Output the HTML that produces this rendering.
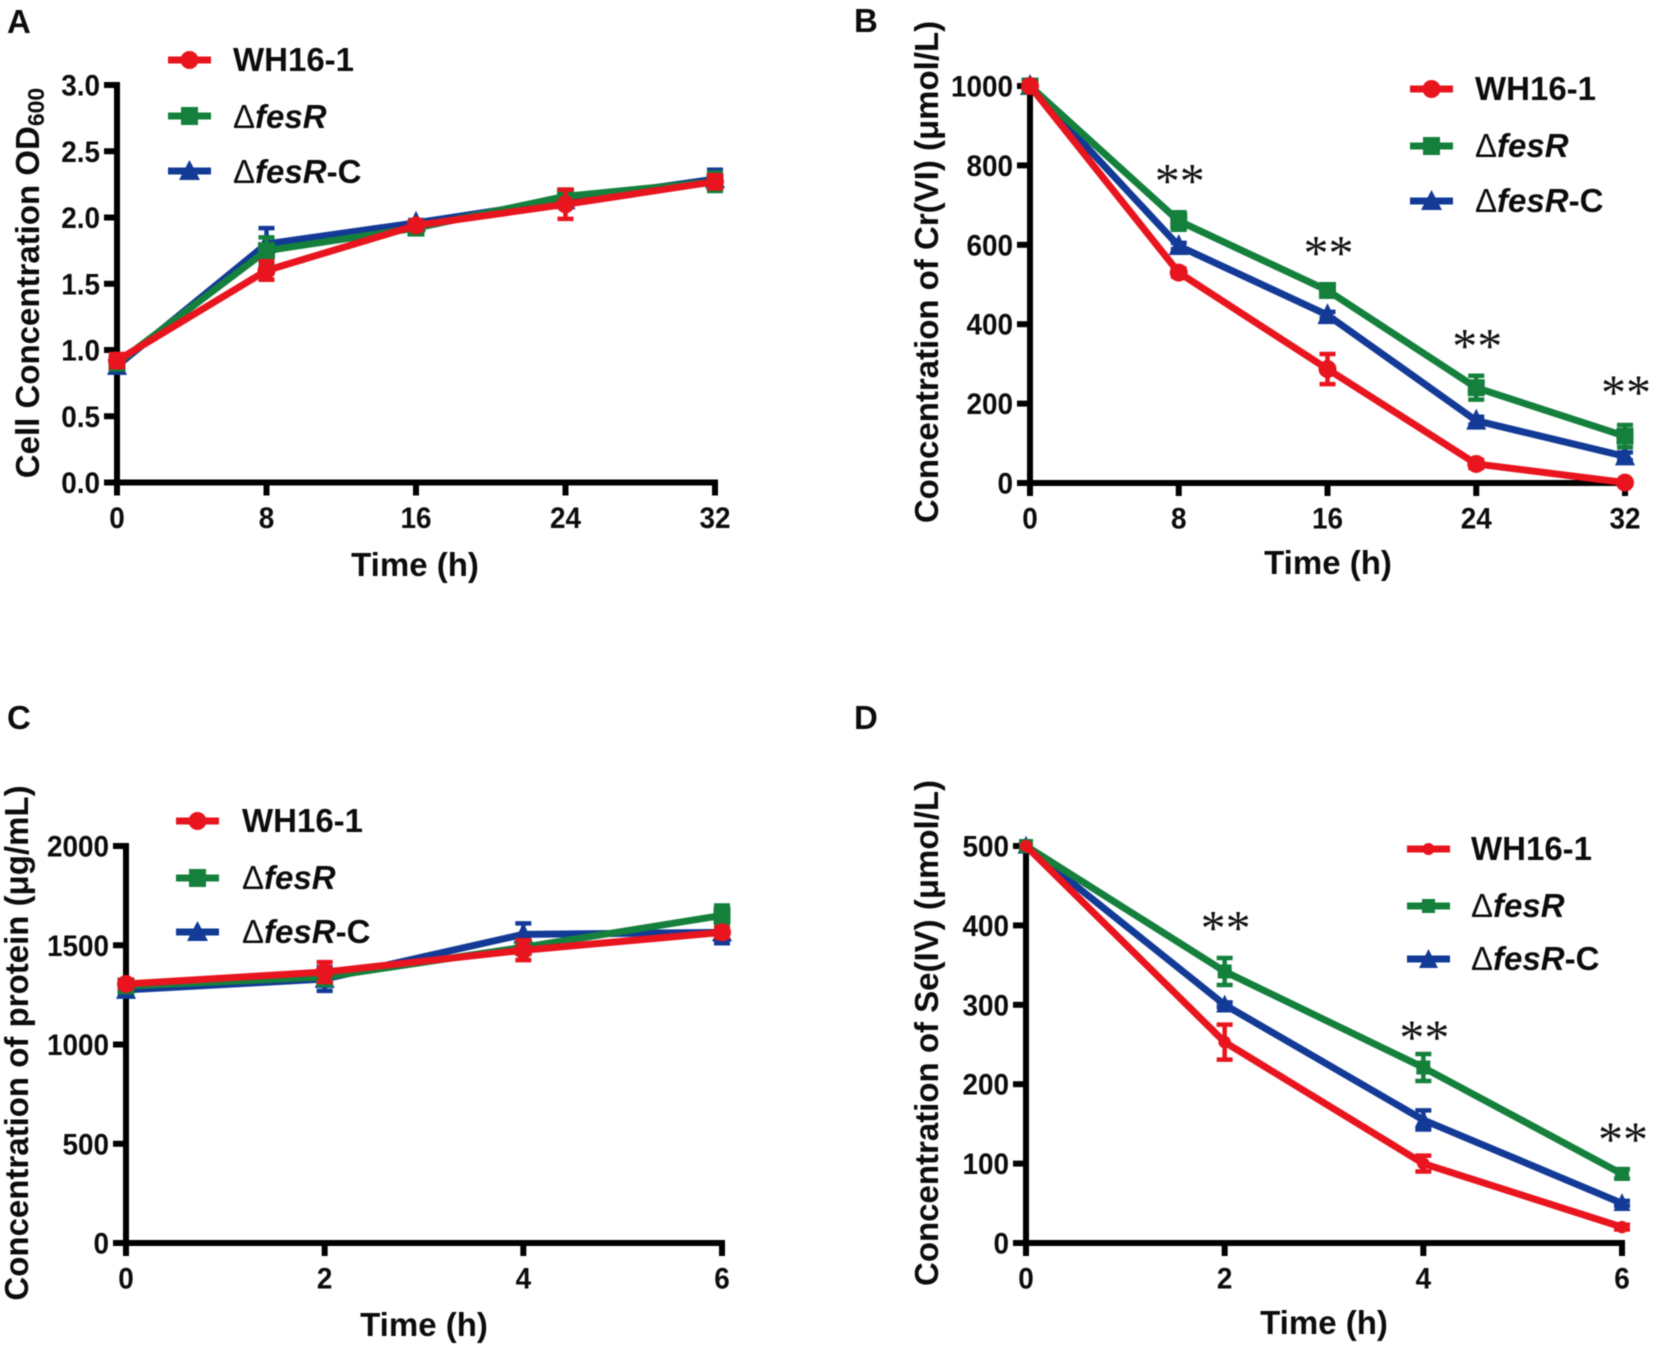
<!DOCTYPE html>
<html lang="en">
<head>
<meta charset="utf-8">
<title>Growth and reduction curves of WH16-1, fesR mutant and complement</title>
<style>
  html, body { margin: 0; padding: 0; background: #ffffff; }
  svg { display: block; filter: blur(0.5px); }
  text { font-family: "Liberation Sans", sans-serif; font-weight: 700; fill: #0c0c0c; }
  .tick { font-size: 30px; }
  .title { font-size: 33px; }
  .legend { font-size: 33px; }
  .letter { font-size: 33px; }
  .thin { font-weight: 400; }
  .ital { font-style: italic; }
</style>
</head>
<body>
<svg id="figure" xmlns="http://www.w3.org/2000/svg" width="1655" height="1352" viewBox="0 0 1655 1352">
  <rect width="1655" height="1352" fill="#ffffff"/>

  <!-- Panel A -->
  <g id="panel-a">
    <text class="letter" x="7" y="33">A</text>
    <text class="title" transform="translate(39,283) rotate(-90)" text-anchor="middle">Cell Concentration OD<tspan font-size="23" dy="5">600</tspan></text>
    <text class="title" x="415" y="576" text-anchor="middle">Time (h)</text>
  </g>
  <g>
    <g>
      <line x1="168" x2="211" y1="60" y2="60" stroke="#e8141e" stroke-width="7"/><circle cx="189.500" cy="60" r="9" fill="#e8141e"/>
      <text class="legend" x="233" y="71">WH16-1</text>
    </g>
    <g>
      <line x1="168" x2="211" y1="116" y2="116" stroke="#14803c" stroke-width="7"/><rect x="181" y="107" width="17" height="18" fill="#14803c"/>
      <text class="legend" x="233" y="128"><tspan class="thin">Δ</tspan><tspan class="ital">fesR</tspan></text>
    </g>
    <g>
      <line x1="168" x2="211" y1="171" y2="171" stroke="#123a96" stroke-width="7"/><path d="M189.500 160 L200 180 L179 180 Z" fill="#123a96"/>
      <text class="legend" x="233" y="183"><tspan class="thin">Δ</tspan><tspan class="ital">fesR</tspan>-C</text>
    </g>
  </g>

  <!-- Panel B -->
  <g id="panel-b">
    <text class="letter" x="854" y="32">B</text>
    <text class="title" transform="translate(938,272) rotate(-90)" text-anchor="middle">Concentration of Cr(VI) (μmol/L)</text>
    <text class="title" x="1328" y="574" text-anchor="middle">Time (h)</text>
  </g>
  <g>
    <g>
      <line x1="1410" x2="1453" y1="89" y2="89" stroke="#e8141e" stroke-width="7"/><circle cx="1431.500" cy="89" r="9" fill="#e8141e"/>
      <text class="legend" x="1475" y="100">WH16-1</text>
    </g>
    <g>
      <line x1="1410" x2="1453" y1="146" y2="146" stroke="#14803c" stroke-width="7"/><rect x="1423" y="137" width="17" height="18" fill="#14803c"/>
      <text class="legend" x="1475" y="157"><tspan class="thin">Δ</tspan><tspan class="ital">fesR</tspan></text>
    </g>
    <g>
      <line x1="1410" x2="1453" y1="201" y2="201" stroke="#123a96" stroke-width="7"/><path d="M1431.500 190 L1442 210 L1421 210 Z" fill="#123a96"/>
      <text class="legend" x="1475" y="212"><tspan class="thin">Δ</tspan><tspan class="ital">fesR</tspan>-C</text>
    </g>
  </g>

  <!-- Panel C -->
  <g id="panel-c">
    <text class="letter" x="7" y="729">C</text>
    <text class="title" transform="translate(28,1043) rotate(-90)" text-anchor="middle">Concentration of protein (μg/mL)</text>
    <text class="title" x="424" y="1336" text-anchor="middle">Time (h)</text>
  </g>
  <g>
    <g>
      <line x1="176" x2="219" y1="821" y2="821" stroke="#e8141e" stroke-width="7"/><circle cx="197.500" cy="821" r="9" fill="#e8141e"/>
      <text class="legend" x="242" y="832">WH16-1</text>
    </g>
    <g>
      <line x1="176" x2="219" y1="878" y2="878" stroke="#14803c" stroke-width="7"/><rect x="189" y="869" width="17" height="18" fill="#14803c"/>
      <text class="legend" x="242" y="889"><tspan class="thin">Δ</tspan><tspan class="ital">fesR</tspan></text>
    </g>
    <g>
      <line x1="176" x2="219" y1="932" y2="932" stroke="#123a96" stroke-width="7"/><path d="M197.500 921 L208 941 L187 941 Z" fill="#123a96"/>
      <text class="legend" x="242" y="943"><tspan class="thin">Δ</tspan><tspan class="ital">fesR</tspan>-C</text>
    </g>
  </g>

  <!-- Panel D -->
  <g id="panel-d">
    <text class="letter" x="854" y="729">D</text>
    <text class="title" transform="translate(938,1033) rotate(-90)" text-anchor="middle">Concentration of Se(IV) (μmol/L)</text>
    <text class="title" x="1324" y="1334" text-anchor="middle">Time (h)</text>
  </g>
  <g>
    <g>
      <line x1="1407" x2="1450" y1="849" y2="849" stroke="#e8141e" stroke-width="7"/><circle cx="1428.500" cy="849" r="6" fill="#e8141e"/>
      <text class="legend" x="1471" y="860">WH16-1</text>
    </g>
    <g>
      <line x1="1407" x2="1450" y1="906" y2="906" stroke="#14803c" stroke-width="7"/><rect x="1422" y="899" width="13" height="14" fill="#14803c"/>
      <text class="legend" x="1471" y="917"><tspan class="thin">Δ</tspan><tspan class="ital">fesR</tspan></text>
    </g>
    <g>
      <line x1="1407" x2="1450" y1="959" y2="959" stroke="#123a96" stroke-width="7"/><path d="M1428.500 949 L1438 968 L1419 968 Z" fill="#123a96"/>
      <text class="legend" x="1471" y="970"><tspan class="thin">Δ</tspan><tspan class="ital">fesR</tspan>-C</text>
    </g>
  </g>
</svg>

<script>
// ---- Chart data ----
const timesAB = [0, 8, 16, 24, 32];
const timesCD = [0, 2, 4, 6];

const yTickLabelsA = ["0.0", "0.5", "1.0", "1.5", "2.0", "2.5", "3.0"];
const yTickLabelsB = ["0", "200", "400", "600", "800", "1000"];
const yTickLabelsC = ["0", "500", "1000", "1500", "2000"];
const yTickLabelsD = ["0", "100", "200", "300", "400", "500"];

const aWh = [0.92, 1.60, 1.94, 2.10, 2.27];
const aWhErr = [0.05, 0.07, 0.03, 0.11, 0.05];
const aFes = [0.90, 1.75, 1.92, 2.16, 2.27];
const aFesErr = [0.04, 0.10, 0.04, 0.05, 0.07];
const aCom = [0.88, 1.80, 1.96, 2.13, 2.29];
const aComErr = [0.05, 0.12, 0.02, 0.05, 0.07];

const bWh = [1000, 530, 287, 48, 1];
const bWhErr = [0, 10, 38, 10, 3];
const bFes = [1000, 660, 485, 240, 118];
const bFesErr = [0, 22, 15, 30, 28];
const bCom = [1000, 597, 423, 157, 67];
const bComErr = [0, 8, 8, 10, 10];
const bStarTimes = [8, 16, 24, 32];
const bStarLevels = [779, 598, 364, 247];

const cWh = [1305, 1365, 1475, 1565];
const cWhErr = [20, 50, 50, 25];
const cFes = [1295, 1340, 1490, 1650];
const cFesErr = [20, 40, 30, 50];
const cCom = [1275, 1330, 1555, 1565];
const cComErr = [25, 60, 55, 55];

const dWh = [500, 253, 100, 20];
const dWhErr = [0, 22, 10, 3];
const dFes = [500, 342, 221, 87];
const dFesErr = [0, 17, 17, 6];
const dCom = [500, 300, 155, 50];
const dComErr = [0, 3, 12, 3];
const dStarTimes = [2, 4, 6];
const dStarLevels = [406, 268, 140];

// ---- Drawing ----
const SVG_NS = "http://www.w3.org/2000/svg";
const RED = "#e8141e", GREEN = "#14803c", BLUE = "#123a96";

function make(tag, attrs) {
  const el = document.createElementNS(SVG_NS, tag);
  for (const key in attrs) el.setAttribute(key, attrs[key]);
  return el;
}

function drawAxes(host, xScale, yScale, xTicks, yLabels, f) {
  const axisStyle = { stroke: "#000000", "stroke-width": 6, fill: "none" };
  const yAxis = make("line", Object.assign({ x1: f.x0, x2: f.x0, y1: f.y1 - 3, y2: f.y0 + 3 }, axisStyle));
  
  
  host.appendChild(yAxis);
  const xAxis = make("line", Object.assign({ x1: f.x0 - 3, x2: f.x1 + 3, y1: f.y0, y2: f.y0 }, axisStyle));
  
  
  host.appendChild(xAxis);

  xTicks.forEach(function (t) {
    const tick = make("line", Object.assign({ x1: xScale(t), x2: xScale(t), y1: f.y0, y2: f.y0 + 13 }, axisStyle));
    
    
    host.appendChild(tick);
    const label = make("text", { class: "tick", transform: "translate(" + xScale(t) + "," + (f.y0 + 45.5) + ") scale(0.93,1)", "text-anchor": "middle" });
    
    
    label.textContent = String(t);
    host.appendChild(label);
  });

  yLabels.forEach(function (text) {
    const v = parseFloat(text);
    const tick = make("line", Object.assign({ x1: f.x0 - 13, x2: f.x0, y1: yScale(v), y2: yScale(v) }, axisStyle));
    
    
    host.appendChild(tick);
    const label = make("text", { class: "tick", transform: "translate(" + (f.x0 - 17) + "," + (yScale(v) + 10.5) + ") scale(0.93,1)", "text-anchor": "end" });
    
    
    label.textContent = text;
    host.appendChild(label);
  });
}

function drawMarker(host, shape, color, cx, cy, f) {
  let mark;
  if (shape === "circle") {
    mark = make("circle", { cx: cx, cy: cy, r: f.circleSize / 2, fill: color });
  } else if (shape === "square") {
    mark = make("rect", { x: cx - f.squareSize / 2, y: cy - f.squareSize / 2, width: f.squareSize, height: f.squareSize, fill: color });
  } else {
    const s = f.triangleSize;
    mark = make("path", { d: "M" + cx + " " + (cy - s * 0.6) + " L" + (cx + s / 2) + " " + (cy + s * 0.45) + " L" + (cx - s / 2) + " " + (cy + s * 0.45) + " Z", fill: color });
  }
  
  
  host.appendChild(mark);
}

function drawSeries(host, name, xs, ys, errs, color, shape, xScale, yScale, f) {
  const g = make("g", {});
  
  

  xs.forEach(function (t, i) {
    if (!errs[i]) return;
    const x = xScale(t);
    const top = yScale(ys[i] + errs[i]);
    const bot = yScale(ys[i] - errs[i]);
    const bar = make("path", {
      d: "M" + x + " " + top + " V" + bot + " M" + (x - 8) + " " + top + " H" + (x + 8) + " M" + (x - 8) + " " + bot + " H" + (x + 8),
      stroke: color, "stroke-width": 4.5, fill: "none"
    });
    
    
    g.appendChild(bar);
  });

  const points = xs.map(function (t, i) { return xScale(t) + "," + yScale(ys[i]); }).join(" ");
  const line = make("polyline", { points: points, fill: "none", stroke: color, "stroke-width": f.lineWidth, "stroke-linejoin": "round" });
  
  
  g.appendChild(line);

  xs.forEach(function (t, i) {
    drawMarker(g, shape, color, xScale(t), yScale(ys[i]), f);
  });
  host.appendChild(g);
}

function drawStars(host, times, levels, xScale, yScale) {
  times.forEach(function (t, i) {
    const star = make("text", {
      x: xScale(t) + 1, y: yScale(levels[i]) + 24, "text-anchor": "middle",
      style: 'font-family:"Liberation Serif",serif;font-weight:400;font-size:50px;fill:#111111'
    });
    
    
    star.textContent = "**";
    host.appendChild(star);
  });
}

function drawPanel(id, frame, xMax, yMax, xTicks, yLabels, series, starTimes, starLevels) {
  const host = document.getElementById(id);
  const xScale = function (v) { return frame.x0 + (v / xMax) * (frame.x1 - frame.x0); };
  const yScale = function (v) { return frame.y0 - (v / yMax) * (frame.y0 - frame.y1); };
  drawAxes(host, xScale, yScale, xTicks, yLabels, frame);
  series.forEach(function (s) {
    drawSeries(host, s.name, xTicks, s.values, s.errors, s.color, s.shape, xScale, yScale, frame);
  });
  if (starTimes) drawStars(host, starTimes, starLevels, xScale, yScale);
}

drawPanel("panel-a", { x0: 117, x1: 715, y0: 482.5, y1: 85, lineWidth: 7, circleSize: 18, squareSize: 17, triangleSize: 20 }, 32, 3,
  timesAB, yTickLabelsA, [
    { name: "series-fesr-c", values: aCom, errors: aComErr, color: BLUE, shape: "triangle" },
    { name: "series-fesr", values: aFes, errors: aFesErr, color: GREEN, shape: "square" },
    { name: "series-wh16-1", values: aWh, errors: aWhErr, color: RED, shape: "circle" }
  ]);

drawPanel("panel-b", { x0: 1030, x1: 1625, y0: 483, y1: 86, lineWidth: 7, circleSize: 18, squareSize: 17, triangleSize: 20 }, 32, 1000,
  timesAB, yTickLabelsB, [
    { name: "series-fesr-c", values: bCom, errors: bComErr, color: BLUE, shape: "triangle" },
    { name: "series-fesr", values: bFes, errors: bFesErr, color: GREEN, shape: "square" },
    { name: "series-wh16-1", values: bWh, errors: bWhErr, color: RED, shape: "circle" }
  ], bStarTimes, bStarLevels);

drawPanel("panel-c", { x0: 126, x1: 722, y0: 1243, y1: 846, lineWidth: 7, circleSize: 18, squareSize: 17, triangleSize: 20 }, 6, 2000,
  timesCD, yTickLabelsC, [
    { name: "series-fesr-c", values: cCom, errors: cComErr, color: BLUE, shape: "triangle" },
    { name: "series-fesr", values: cFes, errors: cFesErr, color: GREEN, shape: "square" },
    { name: "series-wh16-1", values: cWh, errors: cWhErr, color: RED, shape: "circle" }
  ]);

drawPanel("panel-d", { x0: 1026, x1: 1622, y0: 1243, y1: 846, lineWidth: 7, circleSize: 12.5, squareSize: 14, triangleSize: 17 }, 6, 500,
  timesCD, yTickLabelsD, [
    { name: "series-fesr-c", values: dCom, errors: dComErr, color: BLUE, shape: "triangle" },
    { name: "series-fesr", values: dFes, errors: dFesErr, color: GREEN, shape: "square" },
    { name: "series-wh16-1", values: dWh, errors: dWhErr, color: RED, shape: "circle" }
  ], dStarTimes, dStarLevels);
</script>
</body>
</html>
